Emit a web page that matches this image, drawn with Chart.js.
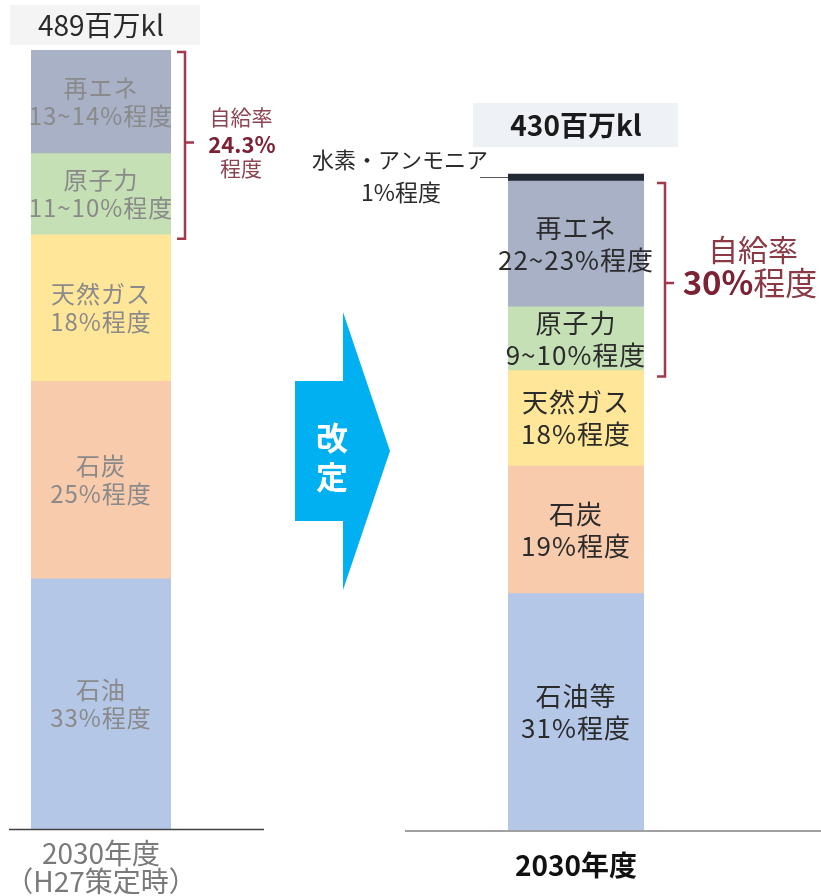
<!DOCTYPE html>
<html><head><meta charset="utf-8">
<script src="https://cdn.jsdelivr.net/npm/chart.js@4.4.1/dist/chart.umd.min.js"></script>
<style>
html,body{margin:0;padding:0;background:#fff;}
#wrap{position:relative;width:821px;height:896px;}
canvas{position:absolute;left:0;top:0;}
</style></head><body>
<div id="wrap"><canvas id="c1" width="821" height="896"></canvas><canvas id="c2" width="821" height="896"></canvas></div>
<script>
// ---- data (百万kl; stacked bottom → top) ----
const sources = ['石油', '石炭', '天然ガス', '原子力', '再エネ', '水素・アンモニア'];
const beforeCategory = [['2030年度', '（H27策定時）']];
const afterCategory = ['2030年度'];
const beforeValues = [157, 124, 92, 51, 65];
const afterValues = [149, 80, 60, 40, 79, 4.4];
const beforeLabels = [['石油', '33%程度'], ['石炭', '25%程度'], ['天然ガス', '18%程度'], ['原子力', '11~10%程度'], ['再エネ', '13~14%程度']];
const afterLabels = [['石油等', '31%程度'], ['石炭', '19%程度'], ['天然ガス', '18%程度'], ['原子力', '9~10%程度'], ['再エネ', '22~23%程度'], ['水素・アンモニア', '1%程度']];
const beforeTotal = '489百万kl';
const afterTotal = '430百万kl';
const beforeSelf = ['自給率', '24.3%', '程度'];
const afterSelf = ['自給率', '30%', '程度'];
const arrowText = ['改', '定'];

// ---- styles ----
const FONT = '"Noto Sans CJK JP", "Noto Sans", sans-serif';
const colors = ['#b4c7e7', '#f8cbad', '#ffe699', '#c5e0b4', '#a8b1c6', '#222a35'];
const yMax = beforeValues.reduce((a, b) => a + b, 0);

function font(size, bold) { return (bold ? 'bold ' : '') + size + 'px ' + FONT; }
function b0(b) { return { l: b.x - b.width / 2, r: b.x + b.width / 2 }; }

function bracket(ctx, x, top, bottom, mid, color) {
  ctx.save();
  ctx.strokeStyle = color; ctx.lineWidth = 2.5;
  ctx.beginPath();
  ctx.moveTo(x - 8, top); ctx.lineTo(x, top); ctx.lineTo(x, bottom); ctx.lineTo(x - 8, bottom);
  ctx.moveTo(x, mid); ctx.lineTo(x + 9, mid);
  ctx.stroke();
  ctx.restore();
}

const leftDeco = {
  id: 'leftDeco',
  afterDraw(chart) {
    const ctx = chart.ctx;
    const ca = chart.chartArea;
    const bars = chart.data.datasets.map((d, i) => chart.getDatasetMeta(i).data[0]);
    ctx.save();
    ctx.strokeStyle = '#404040'; ctx.lineWidth = 1.5;
    ctx.beginPath(); ctx.moveTo(9, ca.bottom + 0.5); ctx.lineTo(264, ca.bottom + 0.5); ctx.stroke();
    ctx.textAlign = 'center'; ctx.textBaseline = 'middle';
    ctx.fillStyle = '#8a8a8a'; ctx.font = font(24);
    ctx.letterSpacing = '1px';
    bars.forEach((b, i) => {
      const cy = (b.y + b.base) / 2;
      const lines = beforeLabels[i];
      lines.forEach((t, k) => ctx.fillText(t, b.x, cy + (k - (lines.length - 1) / 2) * 28));
    });
    ctx.letterSpacing = '0px';
    const top = bars[bars.length - 1];
    ctx.fillStyle = '#f4f4f4';
    ctx.fillRect(b0(top).l - 21, top.y - 45, 190, 40);
    ctx.fillStyle = '#2a2a2a'; ctx.font = font(28);
    ctx.fillText(beforeTotal, top.x, top.y - 25);
    const re = bars[4], nu = bars[3];
    const bx = re.x + re.width / 2 + 14;
    bracket(ctx, bx, re.y + 2, nu.base + 4, (re.y + nu.base) / 2, '#a0394a');
    ctx.fillStyle = '#8b4452'; ctx.font = font(21);
    ctx.fillText(beforeSelf[0], bx + 56, 117);
    ctx.fillStyle = '#7b2234'; ctx.font = font(22, true);
    ctx.fillText(beforeSelf[1], bx + 57, 145);
    ctx.fillStyle = '#8b4452'; ctx.font = font(21);
    ctx.fillText(beforeSelf[2], bx + 56, 168);
    // arrow
    ctx.fillStyle = '#00b0f0';
    ctx.beginPath();
    ctx.moveTo(295, 381); ctx.lineTo(343, 381); ctx.lineTo(343, 312); ctx.lineTo(390, 451);
    ctx.lineTo(343, 590); ctx.lineTo(343, 521); ctx.lineTo(295, 521); ctx.closePath();
    ctx.fill();
    ctx.fillStyle = '#ffffff'; ctx.font = font(32, true);
    ctx.fillText(arrowText[0], 332, 438);
    ctx.fillText(arrowText[1], 332, 477);
    ctx.restore();
  }
};

const rightDeco = {
  id: 'rightDeco',
  afterDraw(chart) {
    const ctx = chart.ctx;
    const ca = chart.chartArea;
    const bars = chart.data.datasets.map((d, i) => chart.getDatasetMeta(i).data[0]);
    ctx.save();
    ctx.strokeStyle = '#a0a0a0'; ctx.lineWidth = 2;
    ctx.beginPath(); ctx.moveTo(405, ca.bottom); ctx.lineTo(821, ca.bottom); ctx.stroke();
    ctx.textAlign = 'center'; ctx.textBaseline = 'middle';
    ctx.fillStyle = '#2b2b2b'; ctx.font = font(26);
    ctx.letterSpacing = '1px';
    bars.forEach((b, i) => {
      if (i === 5) return;
      const cy = (b.y + b.base) / 2;
      const lines = afterLabels[i];
      lines.forEach((t, k) => ctx.fillText(t, b.x, cy + (k - (lines.length - 1) / 2) * 32));
    });
    ctx.letterSpacing = '0px';
    const h = bars[5];
    const hl = b0(h).l;
    ctx.strokeStyle = '#555'; ctx.lineWidth = 1;
    ctx.beginPath(); ctx.moveTo(hl - 28, (h.y + h.base) / 2); ctx.lineTo(hl, (h.y + h.base) / 2); ctx.stroke();
    ctx.fillStyle = '#2b2b2b'; ctx.font = font(22);
    ctx.fillText(afterLabels[5][0], hl - 108, 160);
    ctx.font = font(23);
    ctx.fillText(afterLabels[5][1], hl - 107, 192);
    ctx.fillStyle = '#eef1f6';
    ctx.fillRect(hl - 35, h.y - 71, 205, 44);
    ctx.fillStyle = '#1a1a1a'; ctx.font = font(28, true);
    ctx.fillText(afterTotal, h.x, h.y - 49);
    const re = bars[4], nu = bars[3];
    const bx = b0(re).r + 21;
    bracket(ctx, bx, re.y + 2, nu.base + 6, 283, '#a0394a');
    ctx.fillStyle = '#8b3a45'; ctx.font = font(30);
    ctx.fillText(afterSelf[0], 753, 250);
    ctx.font = font(33, true);
    const w1 = ctx.measureText(afterSelf[1]).width;
    ctx.font = font(32);
    const w2 = ctx.measureText(afterSelf[2]).width;
    const x0 = 750 - (w1 + w2) / 2;
    ctx.textAlign = 'left';
    ctx.fillStyle = '#7b2234'; ctx.font = font(33, true);
    ctx.fillText(afterSelf[1], x0, 282);
    ctx.fillStyle = '#8b3a45'; ctx.font = font(32);
    ctx.fillText(afterSelf[2], x0 + w1, 283);
    ctx.restore();
  }
};

function makeChart(id, labels, values, padding, axisH, tick) {
  return new Chart(document.getElementById(id), {
    type: 'bar',
    data: {
      labels: labels,
      datasets: values.map((v, i) => ({
        label: sources[i], data: [v], backgroundColor: colors[i], borderWidth: 0,
        categoryPercentage: 1, barPercentage: 1
      }))
    },
    options: {
      responsive: false, animation: false,
      layout: { padding: padding },
      plugins: { legend: { display: false }, tooltip: { enabled: false } },
      scales: {
        x: {
          stacked: true,
          grid: { display: false, drawTicks: false },
          border: { display: false },
          ticks: { font: tick.font, color: tick.color, padding: tick.padding, maxRotation: 0, minRotation: 0, autoSkip: false },
          afterFit: a => { a.height = axisH; a.paddingLeft = 0; a.paddingRight = 0; }
        },
        y: { stacked: true, display: false, min: 0, max: yMax }
      }
    },
    plugins: [id === 'c1' ? leftDeco : rightDeco]
  });
}

makeChart('c1', beforeCategory, beforeValues, { left: 31, right: 650, top: 50, bottom: 0 }, 67,
  { font: { family: FONT, size: 28, lineHeight: 1.0 }, color: '#7a7a7a', padding: 10 });
makeChart('c2', afterCategory, afterValues, { left: 508, right: 177, top: 52, bottom: 0 }, 65,
  { font: { family: FONT, size: 28, weight: 'bold', lineHeight: 1.0 }, color: '#111111', padding: 20 });
</script>
</body></html>
